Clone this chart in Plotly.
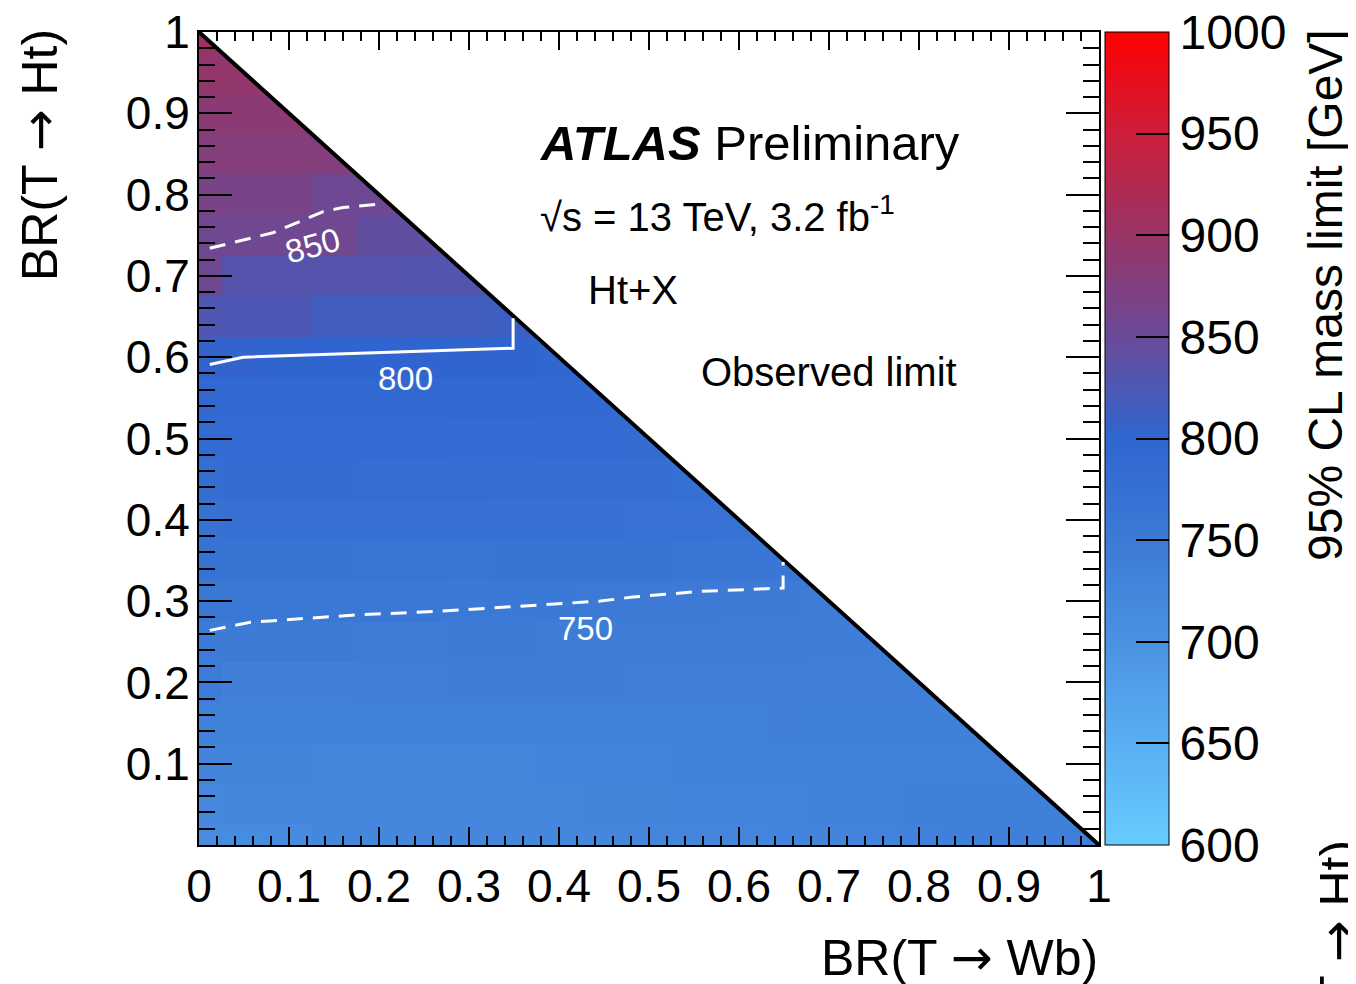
import plotly.graph_objects as go

# ---------------- data ----------------
br_wb_bins = [0.0, 0.05, 0.1, 0.15, 0.2, 0.25, 0.3, 0.35, 0.4, 0.45, 0.5,
              0.55, 0.6, 0.65, 0.7, 0.75, 0.8, 0.85, 0.9, 0.95, 1.0]
br_ht_bins = [0.0, 0.05, 0.1, 0.15, 0.2, 0.25, 0.3, 0.35, 0.4, 0.45, 0.5,
              0.55, 0.6, 0.65, 0.7, 0.75, 0.8, 0.85, 0.9, 0.95, 1.0]

# observed 95% CL mass limit [GeV], one list per BR(T->Ht) row (x from 0 up to 1-BR(Ht))
lim_ht000 = [712, 713, 714, 720, 721, 722, 722, 722, 721, 722, 724, 725, 726, 727, 728, 730, 735, 738, 740, 740, 740]
lim_ht005 = [718, 722, 722, 722, 724, 725, 722, 722, 724, 728, 728, 730, 730, 730, 732, 732, 738, 738, 738, 738]
lim_ht010 = [728, 728, 728, 724, 724, 724, 724, 725, 730, 730, 730, 731, 733, 734, 734, 735, 735, 736, 736]
lim_ht015 = [733, 733, 733, 733, 735, 735, 735, 735, 735, 735, 735, 735, 735, 737, 738, 738, 738, 738]
lim_ht020 = [745, 737, 737, 737, 740, 740, 742, 742, 742, 742, 740, 740, 740, 740, 740, 740, 740]
lim_ht025 = [748, 748, 748, 748, 744, 744, 748, 748, 746, 746, 744, 744, 744, 744, 742, 742]
lim_ht030 = [756, 756, 756, 755, 755, 754, 753, 752, 752, 751, 750, 749, 748, 747, 746]
lim_ht035 = [768, 766, 765, 765, 762, 762, 762, 764, 764, 764, 764, 762, 760, 758]
lim_ht040 = [772, 775, 775, 775, 774, 774, 774, 772, 772, 772, 770, 770, 768]
lim_ht045 = [781, 782, 782, 782, 781, 781, 780, 780, 778, 778, 777, 776]
lim_ht050 = [788, 788, 788, 788, 787, 787, 786, 786, 785, 784, 783]
lim_ht055 = [794, 794, 793, 793, 793, 793, 793, 792, 791, 790]
lim_ht060 = [803, 803, 801, 801, 801, 801, 801, 801, 797]
lim_ht065 = [826, 826, 826, 815, 815, 815, 815, 812]
lim_ht070 = [856, 832, 832, 832, 832, 830, 830]
lim_ht075 = [857, 857, 857, 857, 842, 842]
lim_ht080 = [866, 866, 866, 855, 855]
lim_ht085 = [878, 878, 878, 878]
lim_ht090 = [886, 886, 886]
lim_ht095 = [895, 895]
lim_ht100 = [905]

# contour curves (BR(T->Wb), BR(T->Ht))
c750_x = [0.012, 0.057, 0.175, 0.275, 0.446, 0.482, 0.557, 0.649, 0.649]
c750_y = [0.264, 0.274, 0.283, 0.288, 0.300, 0.305, 0.312, 0.316, 0.348]
c800_x = [0.012, 0.049, 0.349, 0.349]
c800_y = [0.591, 0.600, 0.611, 0.648]
c850_x = [0.012, 0.082, 0.138, 0.160, 0.198, 0.199]
c850_y = [0.734, 0.753, 0.779, 0.784, 0.788, 0.797]

# physical boundary BR(Wb)+BR(Ht)=1
diag_x = [0.0, 1.0]
diag_y = [1.0, 0.0]

x_ticks = [0, 0.1, 0.2, 0.3, 0.4, 0.5, 0.6, 0.7, 0.8, 0.9, 1]
x_tick_text = ["0", "0.1", "0.2", "0.3", "0.4", "0.5", "0.6", "0.7", "0.8", "0.9", "1"]
y_ticks = [0.1, 0.2, 0.3, 0.4, 0.5, 0.6, 0.7, 0.8, 0.9, 1]
y_tick_text = ["0.1", "0.2", "0.3", "0.4", "0.5", "0.6", "0.7", "0.8", "0.9", "1"]
cb_ticks = [600, 650, 700, 750, 800, 850, 900, 950, 1000]

# ---------------- figure ----------------
rows = [lim_ht000, lim_ht005, lim_ht010, lim_ht015, lim_ht020, lim_ht025, lim_ht030,
        lim_ht035, lim_ht040, lim_ht045, lim_ht050, lim_ht055, lim_ht060, lim_ht065,
        lim_ht070, lim_ht075, lim_ht080, lim_ht085, lim_ht090, lim_ht095, lim_ht100]
nx = len(br_wb_bins)
z = [r + [None] * (nx - len(r)) for r in rows]

colorscale = [
    [0.0, "#66ccfc"],
    [0.125, "#5aaef2"],
    [0.25, "#4a92e2"],
    [0.375, "#3c7ad6"],
    [0.5, "#2f66d0"],
    [0.625, "#6a4a98"],
    [0.75, "#983466"],
    [0.875, "#cc1e3a"],
    [1.0, "#ff0000"],
]

FONT = "Liberation Sans, Arial, Helvetica, sans-serif"
ARROW = '<span style="font-family:DejaVu Sans">→</span>'
OFF = 8  # page body margin of the html page
W, H = 1356 - OFF, 984 - OFF
L, T = 199 - OFF, 32 - OFF
pw, ph = 900, 813
R = W - L - pw
B = H - T - ph


def px_x(p):
    return (p - OFF - L) / pw


def px_y(p):
    return (T + ph - (p - OFF)) / ph


fig = go.Figure()

fig.add_trace(go.Heatmap(
    x=br_wb_bins, y=br_ht_bins, z=z,
    zmin=600, zmax=1000, colorscale=colorscale,
    showscale=True,
    colorbar=dict(
        x=px_x(1105), xanchor="left", xpad=0, ypad=0,
        y=0.5, yanchor="middle", len=1, lenmode="fraction",
        thickness=64, thicknessmode="pixels",
        outlinewidth=1, outlinecolor="black",
        tickvals=cb_ticks, ticktext=[str(v) for v in cb_ticks],
        ticks="inside", ticklen=33, tickwidth=2, tickcolor="black",
        ticklabeloverflow="allow",
        tickfont=dict(family=FONT, size=48, color="black"),
    ),
    hoverinfo="skip",
))

# white mask above the kinematic boundary
fig.add_trace(go.Scatter(
    x=[0.0, 1.0, 1.0, 0.0], y=[1.0, 0.0, 1.0, 1.0],
    fill="toself", fillcolor="white", mode="none",
    line=dict(width=0), showlegend=False, hoverinfo="skip",
))

fig.add_trace(go.Scatter(x=diag_x, y=diag_y, mode="lines",
                         line=dict(color="black", width=4), showlegend=False, hoverinfo="skip"))

fig.add_trace(go.Scatter(x=c750_x, y=c750_y, mode="lines",
                         line=dict(color="white", width=3, dash="16px,10px"), showlegend=False))
fig.add_trace(go.Scatter(x=c800_x, y=c800_y, mode="lines",
                         line=dict(color="white", width=3), showlegend=False))
fig.add_trace(go.Scatter(x=c850_x, y=c850_y, mode="lines",
                         line=dict(color="white", width=3, dash="16px,10px"), showlegend=False))

ann = []
# contour labels
ann.append(dict(x=0.126, y=0.738, xref="x", yref="y", text="850", showarrow=False,
                textangle=-15, font=dict(family=FONT, size=33, color="white")))
ann.append(dict(x=0.229, y=0.574, xref="x", yref="y", text="800", showarrow=False,
                font=dict(family=FONT, size=33, color="white")))
ann.append(dict(x=0.429, y=0.266, xref="x", yref="y", text="750", showarrow=False,
                font=dict(family=FONT, size=33, color="white")))
# labels
ann.append(dict(x=px_x(538), y=px_y(143), xref="paper", yref="paper", xanchor="left", yanchor="middle",
                text="<b><i>ATLAS</i></b> Preliminary", showarrow=False,
                font=dict(family=FONT, size=49, color="black")))
ann.append(dict(x=px_x(538), y=px_y(214), xref="paper", yref="paper", xanchor="left", yanchor="middle",
                text="√s = 13 TeV, 3.2 fb<sup>-1</sup>", showarrow=False,
                font=dict(family=FONT, size=40, color="black")))
ann.append(dict(x=px_x(586), y=px_y(290), xref="paper", yref="paper", xanchor="left", yanchor="middle",
                text="Ht+X", showarrow=False, font=dict(family=FONT, size=40, color="black")))
ann.append(dict(x=px_x(699), y=px_y(372), xref="paper", yref="paper", xanchor="left", yanchor="middle",
                text="Observed limit", showarrow=False, font=dict(family=FONT, size=40, color="black")))
# axis titles
ann.append(dict(x=px_x(1100), y=px_y(958), xref="paper", yref="paper", xanchor="right", yanchor="middle",
                text="BR(T " + ARROW + " Wb)", showarrow=False, font=dict(family=FONT, size=50, color="black")))
ann.append(dict(x=px_x(40), y=px_y(27), xref="paper", yref="paper", xanchor="center", yanchor="top",
                text="BR(T " + ARROW + " Ht)", textangle=-90, showarrow=False,
                font=dict(family=FONT, size=50, color="black")))
ann.append(dict(x=px_x(1325), y=px_y(27), xref="paper", yref="paper", xanchor="center", yanchor="top",
                text="95% CL mass limit [GeV]", textangle=-90, showarrow=False,
                font=dict(family=FONT, size=48, color="black")))
ann.append(dict(x=px_x(1338), y=px_y(838), xref="paper", yref="paper", xanchor="center", yanchor="top",
                text="BR(T " + ARROW + " Ht)", textangle=-90, showarrow=False,
                font=dict(family=FONT, size=50, color="black")))

fig.update_layout(
    width=W, height=H,
    margin=dict(l=L, r=R, t=T, b=B, pad=0, autoexpand=False),
    paper_bgcolor="white", plot_bgcolor="white",
    annotations=ann,
    showlegend=False,
    xaxis=dict(
        range=[0, 1], showgrid=False, zeroline=False,
        showline=True, linecolor="black", linewidth=2, mirror="allticks",
        ticks="inside", ticklen=18, tickwidth=2, tickcolor="black",
        tickvals=x_ticks, ticktext=x_tick_text,
        ticklabeloverflow="allow",
        tickfont=dict(family=FONT, size=46, color="black"),
        minor=dict(dtick=0.02, tick0=0, ticks="inside", ticklen=9, tickwidth=2, tickcolor="black", showgrid=False),
    ),
    yaxis=dict(
        range=[0, 1], showgrid=False, zeroline=False,
        showline=True, linecolor="black", linewidth=2, mirror="allticks",
        ticks="inside", ticklen=33, tickwidth=2, tickcolor="black",
        tickvals=y_ticks, ticktext=y_tick_text,
        ticklabeloverflow="allow",
        tickfont=dict(family=FONT, size=46, color="black"),
        ticklabelstandoff=-2,
        minor=dict(dtick=0.02, tick0=0, ticks="inside", ticklen=16, tickwidth=2, tickcolor="black", showgrid=False),
    ),
)

fig.write_html("out.html")
